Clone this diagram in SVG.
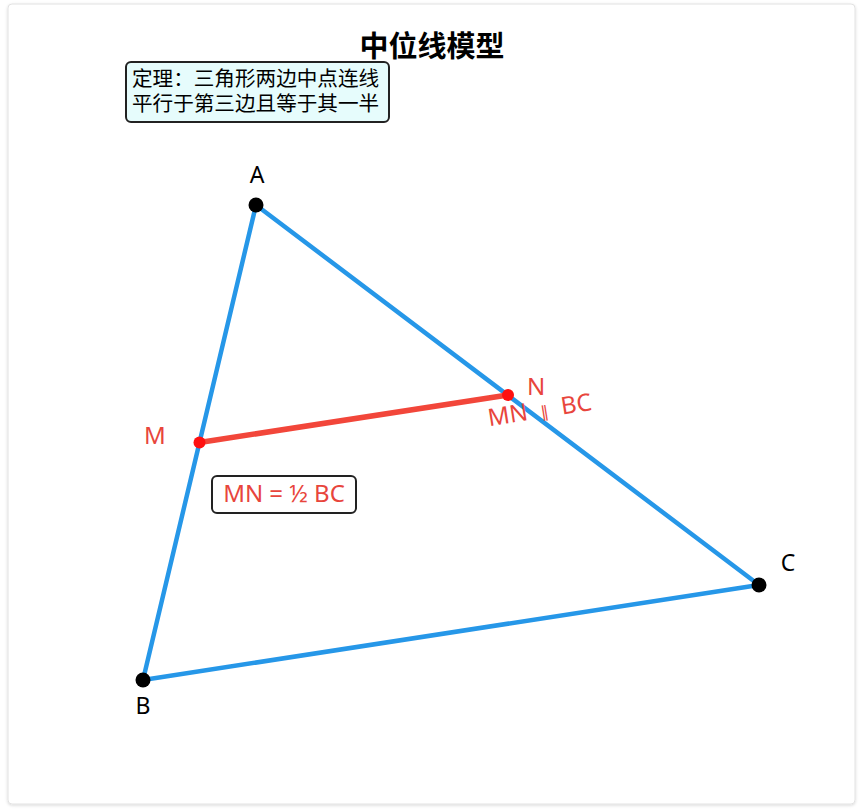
<svg xmlns="http://www.w3.org/2000/svg" width="860" height="810" viewBox="0 0 860 810">
<defs>
<filter id="sh" x="-5%" y="-5%" width="110%" height="110%">
<feDropShadow dx="0" dy="1" stdDeviation="1.5" flood-color="#000" flood-opacity="0.15"/>
</filter>
</defs>
<style>
text{font-family:"Noto Sans","Noto Sans CJK SC",sans-serif;}
.cjk{font-family:"Noto Sans CJK SC","Noto Sans",sans-serif;}
.side{stroke:#2697e8;stroke-width:4.5;stroke-linecap:round;fill:none;}
.mid{stroke:#f2463a;stroke-width:5.5;stroke-linecap:round;fill:none;}
.vtx{fill:#000;}
.mpt{fill:#ff1010;}
.lbl{font-size:23px;fill:#000;text-anchor:middle;}
.rlbl{font-size:24px;fill:#e8453c;text-anchor:middle;}
.par{font-family:"DejaVu Sans",sans-serif;font-size:16px;}
</style>
<rect x="8" y="4" width="847" height="800" rx="4" fill="#fff" stroke="#e2e2e2" filter="url(#sh)"/>
<text class="cjk" x="432" y="57" font-size="29" font-weight="bold" text-anchor="middle" fill="#000">中位线模型</text>
<g id="theorem">
<rect x="126" y="62" width="263" height="60" rx="5" fill="#e6fcfc" stroke="#222" stroke-width="2"/>
<text class="cjk" x="132" y="86" font-size="20.6" fill="#000">定理：三角形两边中点连线</text>
<text class="cjk" x="132" y="111" font-size="20.6" fill="#000">平行于第三边且等于其一半</text>
</g>
<g id="connectors">
<line class="side" x1="256" y1="205" x2="143" y2="680"/>
<line class="side" x1="256" y1="205" x2="759" y2="585"/>
<line class="side" x1="143" y1="680" x2="759" y2="585"/>
<line class="mid" x1="199.5" y1="442.5" x2="508" y2="395"/>
</g>
<g id="A"><circle class="vtx" cx="256" cy="205" r="7.5"/><text class="lbl" x="257" y="183">A</text></g>
<g id="B"><circle class="vtx" cx="143" cy="680" r="7.5"/><text class="lbl" x="143" y="714">B</text></g>
<g id="C"><circle class="vtx" cx="759" cy="585" r="7.5"/><text class="lbl" x="788" y="571">C</text></g>
<g id="M"><circle class="mpt" cx="199.5" cy="442.5" r="6"/><text class="rlbl" x="155" y="444">M</text></g>
<g id="N"><circle class="mpt" cx="508" cy="395" r="6"/><text class="rlbl" x="536" y="395">N</text></g>
<g id="parallel"><text class="rlbl" transform="translate(541,418) rotate(-9)" x="0" y="0" font-size="22">MN<tspan class="par" dx="13">∥</tspan><tspan dx="13">BC</tspan></text></g>
<g id="half">
<rect x="212" y="476" width="144" height="37" rx="5" fill="#fff" stroke="#222" stroke-width="2"/>
<text class="rlbl" x="284" y="502" font-size="24">MN = ½ BC</text>
</g>
</svg>
